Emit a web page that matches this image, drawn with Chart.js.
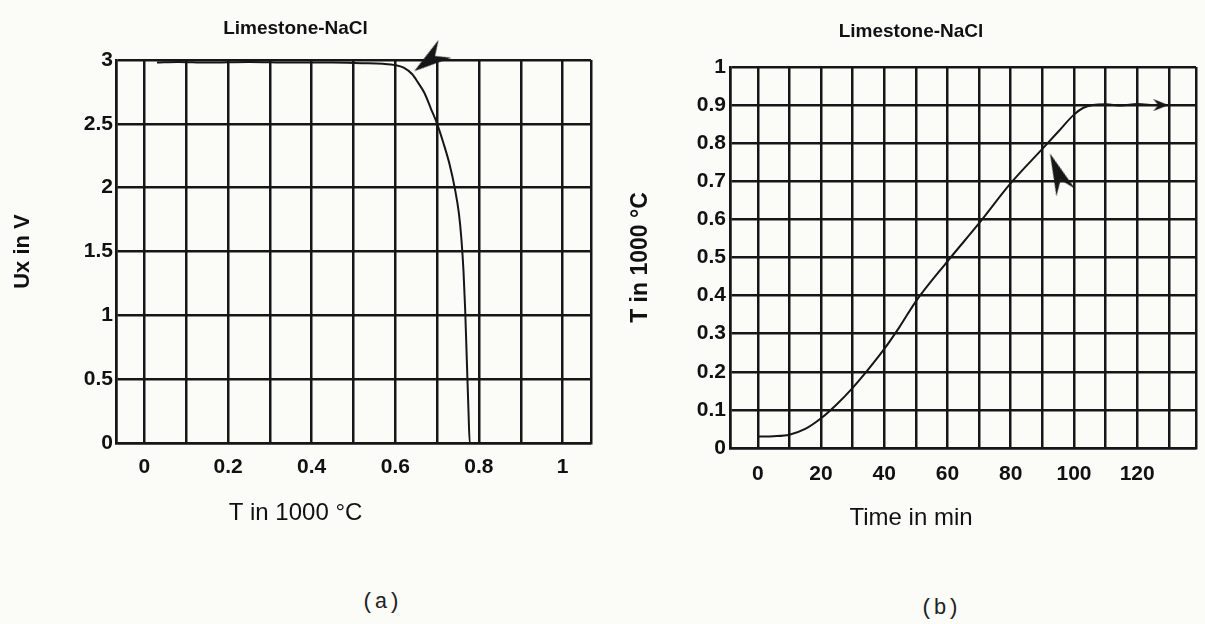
<!DOCTYPE html>
<html lang="en">
<head>
<meta charset="UTF-8">
<title>Limestone-NaCl</title>
<script src="https://cdn.jsdelivr.net/npm/chart.js"></script>
<style>
  body {
    margin: 0;
    width: 1205px;
    height: 624px;
    overflow: hidden;
    position: relative;
    background: #fbfbf8;
  }
  canvas {
    position: absolute;
    top: 0;
  }
  #chartA { left: 0; }
  #chartB { left: 626px; }
  .caption {
    position: absolute;
    font-family: "Liberation Mono", monospace;
    font-size: 22px;
    color: #222;
    transform: translate(-50%, -50%);
  }
</style>
</head>
<body>

<canvas id="chartA" width="644" height="540"></canvas>
<canvas id="chartB" width="618" height="545"></canvas>
<div class="caption" style="left:381px; top:602px;">(a)</div>
<div class="caption" style="left:940px; top:608px;">(b)</div>

<script>
// (a) sensor voltage against temperature
const tempA = [0.03, 0.08, 0.15, 0.25, 0.35, 0.45, 0.52, 0.57, 0.6, 0.62, 0.64, 0.655, 0.67, 0.685, 0.7,
               0.715, 0.73, 0.742, 0.752, 0.758, 0.763, 0.767, 0.771, 0.775, 0.778, 0.8, 0.9];
const uxA = [2.98, 2.985, 2.98, 2.985, 2.98, 2.98, 2.975, 2.97, 2.96, 2.94, 2.89, 2.82, 2.74, 2.62, 2.5,
             2.35, 2.18, 2.0, 1.8, 1.6, 1.35, 1.05, 0.65, 0.25, 0, 0, 0];
const markTempA = [0.682];
const markUxA = [3.0];

// (b) furnace temperature against time
const timeB = [0, 5, 10, 15, 20, 25, 30, 35, 40, 45, 50, 60, 70, 80, 90, 95, 100, 103, 106, 110, 115, 120, 125];
const tempB = [0.03, 0.031, 0.035, 0.05, 0.078, 0.115, 0.158, 0.207, 0.26, 0.32, 0.385, 0.49, 0.59, 0.695,
               0.785, 0.83, 0.875, 0.893, 0.9, 0.902, 0.899, 0.903, 0.9];
const markTimeB = [94.9, 127.5];
const markTempB = [0.722, 0.9];

// axes
const tempGridA = [-0.068, 0, 0.1, 0.2, 0.3, 0.4, 0.5, 0.6, 0.7, 0.8, 0.9, 1, 1.068];
const tempLabelsA = [0, 0.2, 0.4, 0.6, 0.8, 1];
const uxTicksA = [0, 0.5, 1, 1.5, 2, 2.5, 3];
const timeGridB = [-8.8, 0, 10, 20, 30, 40, 50, 60, 70, 80, 90, 100, 110, 120, 130, 138.6];
const timeLabelsB = [0, 20, 40, 60, 80, 100, 120];
const tempTicksB = [0, 0.1, 0.2, 0.3, 0.4, 0.5, 0.6, 0.7, 0.8, 0.9, 1];

Chart.defaults.font.family = '"Liberation Sans", Arial, sans-serif';
Chart.defaults.color = '#111';

const ink = '#161616';

function pairs(xs, ys) {
    return xs.map((x, i) => ({ x: x, y: ys[i] }));
}

function fixedTicks(values) {
    return scale => { scale.ticks = values.map(v => ({ value: v })); };
}

function showOnly(list) {
    return value => {
        const hit = list.find(v => Math.abs(v - value) < 1e-9);
        return hit === undefined ? '' : String(hit);
    };
}

// barbed arrow head, tip pointing up (rotated by pointRotation)
function dart(w, h) {
    const c = document.createElement('canvas');
    c.width = w;
    c.height = h;
    const g = c.getContext('2d');
    g.fillStyle = ink;
    g.beginPath();
    g.moveTo(w / 2, 0);
    g.lineTo(w, h);
    g.lineTo(w / 2, h * 0.68);
    g.lineTo(0, h);
    g.closePath();
    g.fill();
    return c;
}

const grid = { color: ink, lineWidth: 2.5, drawTicks: false };
const border = { color: ink, width: 2.5 };
const tickFont = { size: 21, weight: 'bold' };

function curve(data) {
    return {
        data: data,
        showLine: true,
        borderColor: ink,
        borderWidth: 2,
        pointRadius: 0,
        cubicInterpolationMode: 'monotone'
    };
}

function arrow(data, shapes, angles) {
    return {
        data: data,
        pointStyle: shapes,
        pointRotation: angles,
        pointRadius: 10,
        pointBorderWidth: 0,
        clip: false
    };
}

new Chart(document.getElementById('chartA'), {
    type: 'scatter',
    data: {
        datasets: [
            curve(pairs(tempA, uxA)),
            arrow(pairs(markTempA, markUxA), [dart(22, 38)], [234])
        ]
    },
    options: {
        responsive: false,
        animation: false,
        layout: { padding: { left: 0, right: 53, top: 0, bottom: 0 } },
        plugins: {
            legend: { display: false },
            tooltip: { enabled: false },
            title: {
                display: true,
                text: 'Limestone-NaCl',
                font: { size: 19, weight: 'bold' },
                padding: { top: 17, bottom: 20.2 }
            },
            subtitle: {
                display: true,
                position: 'bottom',
                text: 'T in 1000 °C',
                font: { size: 24, weight: 'normal' },
                padding: { top: 0, bottom: 12.6 }
            }
        },
        scales: {
            x: {
                type: 'linear',
                min: tempGridA[0],
                max: tempGridA[tempGridA.length - 1],
                afterBuildTicks: fixedTicks(tempGridA),
                afterFit: s => { s.height = 55.6; },
                grid: grid,
                border: border,
                ticks: { padding: 12, font: tickFont, maxRotation: 0, autoSkip: false, callback: showOnly(tempLabelsA) }
            },
            y: {
                min: 0,
                max: 3,
                afterBuildTicks: fixedTicks(uxTicksA),
                afterFit: s => { s.width = 116; },
                grid: grid,
                border: border,
                title: { display: true, text: 'Ux in V', font: { size: 22, weight: 'bold' }, padding: { top: 10, bottom: 0 } },
                ticks: { padding: 3, font: tickFont, autoSkip: false, callback: showOnly(uxTicksA) }
            }
        }
    }
});

new Chart(document.getElementById('chartB'), {
    type: 'scatter',
    data: {
        datasets: [
            curve(pairs(timeB, tempB)),
            arrow(pairs(markTimeB, markTempB), [dart(20, 42), dart(12, 15)], [338, 90])
        ]
    },
    options: {
        responsive: false,
        animation: false,
        layout: { padding: { left: 0, right: 48, top: 0, bottom: 0 } },
        plugins: {
            legend: { display: false },
            tooltip: { enabled: false },
            title: {
                display: true,
                text: 'Limestone-NaCl',
                font: { size: 19, weight: 'bold' },
                padding: { top: 20, bottom: 24.2 }
            },
            subtitle: {
                display: true,
                position: 'bottom',
                text: 'Time in min',
                font: { size: 24, weight: 'normal' },
                padding: { top: 0, bottom: 12.6 }
            }
        },
        scales: {
            x: {
                type: 'linear',
                min: timeGridB[0],
                max: timeGridB[timeGridB.length - 1],
                afterBuildTicks: fixedTicks(timeGridB),
                afterFit: s => { s.height = 55.6; },
                grid: grid,
                border: border,
                ticks: { padding: 14, font: tickFont, maxRotation: 0, autoSkip: false, callback: showOnly(timeLabelsB) }
            },
            y: {
                min: 0,
                max: 1,
                afterBuildTicks: fixedTicks(tempTicksB),
                afterFit: s => { s.width = 104; },
                grid: grid,
                border: border,
                title: { display: true, text: 'T in 1000 °C', font: { size: 23, weight: 'bold' }, padding: { top: 1.2, bottom: 0 } },
                ticks: { padding: 4, font: tickFont, autoSkip: false, callback: showOnly(tempTicksB) }
            }
        }
    }
});
</script>
</body>
</html>
